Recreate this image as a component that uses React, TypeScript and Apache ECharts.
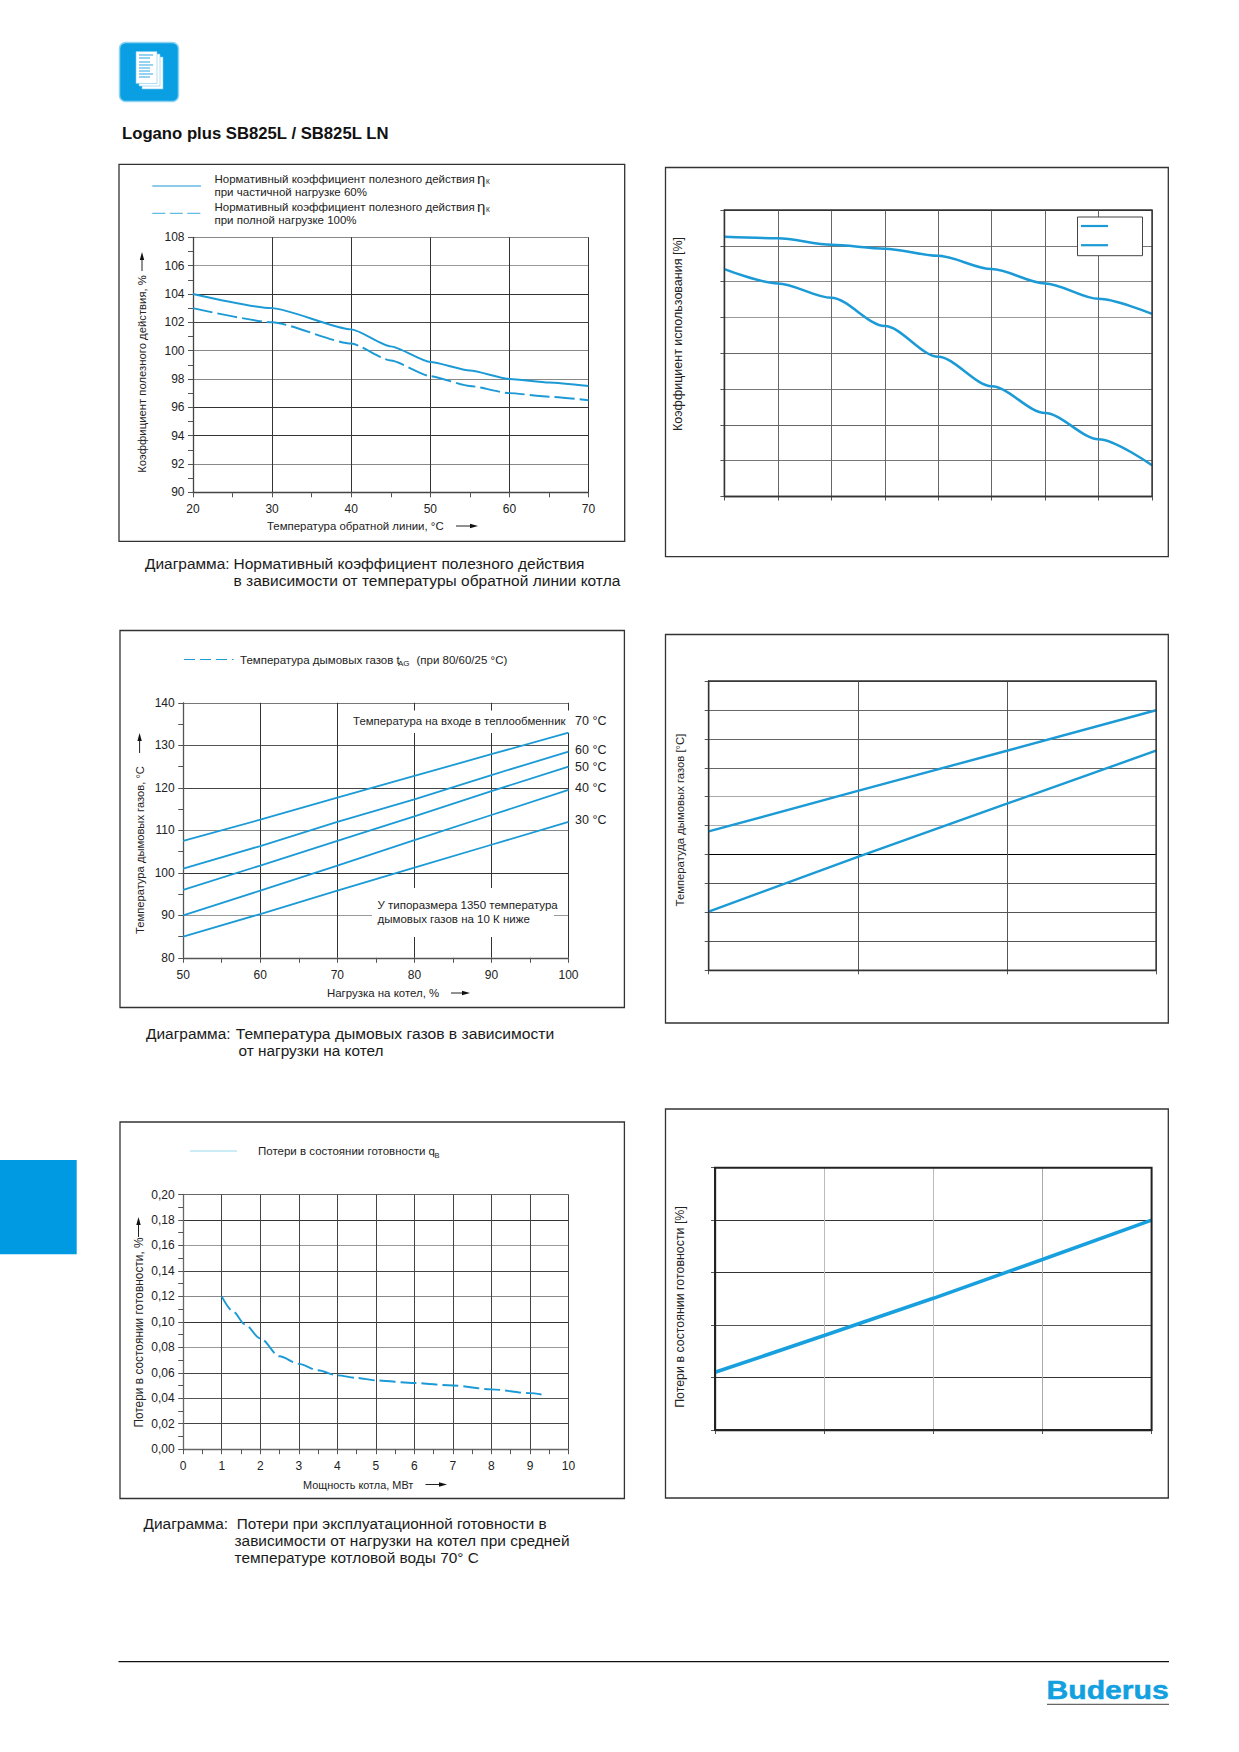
import React, { useEffect, useRef } from "react";
import * as echarts from "echarts";

const PAGE_W = 1239;
const PAGE_H = 1752;
const BLUE = "#1b9ad6";
const FONT = '"Liberation Sans", Arial, sans-serif';

// Chart 1: efficiency vs. return temperature
const effX = [20, 30, 40, 45, 50, 55, 60, 65, 70];
const effPartLoad = [104, 103, 101.5, 100.3, 99.2, 98.6, 98, 97.75, 97.5];
const effFullLoad = [103, 102, 100.5, 99.3, 98.2, 97.5, 97, 96.75, 96.5];

// Chart 2: utilisation coefficient, no scale printed
const utilX = [0, 1, 2, 3, 4, 5, 6, 7, 8];
const utilUpper = [7.25, 7.21, 7.03, 6.92, 6.72, 6.35, 5.95, 5.52, 5.1];
const utilLower = [6.35, 5.95, 5.55, 4.76, 3.9, 3.08, 2.33, 1.6, 0.87];

// Chart 3: flue gas temperature vs. load
const loadX = [50, 60, 70, 80, 90, 100];
const flue70 = [107.5, 112.5, 117.7, 122.8, 127.9, 133];
const flue60 = [101, 106.3, 112, 117.3, 123, 128.5];
const flue50 = [96, 101.7, 107.5, 113.3, 119.2, 125];
const flue40 = [90, 95.8, 101.7, 107.7, 113.6, 119.5];
const flue30 = [85, 90.3, 95.8, 101.2, 106.6, 112];
const inletLabels = ["70 °C", "60 °C", "50 °C", "40 °C", "30 °C"];

// Chart 4: flue gas temperature, no scale printed
const flue2X = [0, 1, 2, 3];
const flue2Upper = [4.8, 6.2, 7.59, 8.99];
const flue2Lower = [2.03, 3.92, 5.76, 7.59];

// Chart 5: standby losses vs. boiler output
const powerX = [1, 1.3, 1.6, 2, 2.5, 3, 3.5, 4, 4.5, 5, 6, 7, 8, 9, 9.3];
const standby = [0.12, 0.108, 0.098, 0.087, 0.073, 0.067, 0.062, 0.058, 0.056, 0.054, 0.052, 0.05, 0.047, 0.044, 0.043];

// Chart 6: standby losses, no scale printed
const standby2X = [0, 1, 2, 3, 4];
const standby2 = [1.1, 1.8, 2.51, 3.25, 4];

const pairs = (xs: number[], ys: number[]) => xs.map((x, i) => [x, ys[i]]);

const T = (x: number, y: number, text: string, o: any = {}) => ({
  type: "text",
  x,
  y,
  z: 5,
  rotation: o.rotation ?? 0,
  scaleX: o.scaleX ?? 1,
  style: {
    text,
    fontSize: o.size ?? 11.5,
    fontFamily: FONT,
    fontWeight: o.weight ?? "normal",
    fill: o.color ?? "#222",
    stroke: o.stroke,
    lineWidth: o.stroke ? 0.5 : 0,
    align: o.align ?? "left",
    verticalAlign: "middle",
  },
});
const L = (x1: number, y1: number, x2: number, y2: number, stroke: string, lineWidth = 1, lineDash?: number[]) => ({
  type: "line",
  z: 5,
  shape: { x1, y1, x2, y2 },
  style: { stroke, lineWidth, lineDash },
});
const R = (x: number, y: number, width: number, height: number, style: any, z = 1, r = 0) => ({
  type: "rect",
  z,
  shape: { x, y, width, height, r },
  style,
});
const frame = (x1: number, y1: number, x2: number, y2: number) =>
  R(x1, y1, x2 - x1, y2 - y1, { fill: "none", stroke: "#333", lineWidth: 1.3 }, 0);
const arrowR = (x1: number, x2: number, y: number) => [
  L(x1, y, x2 - 7, y, "#222", 1),
  { type: "polygon", z: 5, shape: { points: [[x2 - 8, y - 2.2], [x2, y], [x2 - 8, y + 2.2]] }, style: { fill: "#111" } },
];
const arrowU = (x: number, y1: number, y2: number) => [
  L(x, y2, x, y1 + 7, "#222", 1),
  { type: "polygon", z: 5, shape: { points: [[x - 2.2, y1 + 8], [x, y1], [x + 2.2, y1 + 8]] }, style: { fill: "#111" } },
];
const yTitle = (x: number, y: number, text: string, size = 11.5) =>
  T(x, y, text, { rotation: Math.PI / 2, align: "center", size });
const caption = (x: number, y: number, text: string, stretch: number) =>
  T(x, y, text, { size: 15, scaleX: stretch, color: "#1a1a1a" });

const axisBase = (min: number, max: number, interval: number, gridIndex: number, labels: boolean, color: string, splitColors: any, minor: boolean, fmt?: (v: number) => string) => ({
  type: "value",
  gridIndex,
  min,
  max,
  interval,
  axisLine: { show: true, onZero: false, lineStyle: { color, width: 1.3 } },
  axisTick: { show: true, length: labels ? 5 : 4, lineStyle: { color: "#555", width: 1 } },
  minorTick: minor ? { show: true, splitNumber: 2, length: 5, lineStyle: { color: "#555", width: 1 } } : { show: false },
  splitLine: { show: true, lineStyle: { color: splitColors, width: 1 } },
  axisLabel: labels
    ? { show: true, fontSize: 12, fontFamily: FONT, color: "#222", margin: 8.5, showMinLabel: true, showMaxLabel: true, formatter: fmt }
    : { show: false },
});

const line = (i: number, data: number[][], name: string, width: number, dash?: number[], color = BLUE, smooth: number | boolean = false) => ({
  type: "line",
  name,
  xAxisIndex: i,
  yAxisIndex: i,
  data,
  showSymbol: false,
  symbol: "none",
  smooth,
  smoothMonotone: smooth ? "x" : undefined,
  clip: false,
  z: 2,
  lineStyle: { color, width, type: dash ?? "solid" },
});

function buildOption() {
  const grids = [
    { left: 193, top: 237.3, width: 395.5, height: 255 },
    { left: 724.4, top: 210, width: 427.6, height: 286.5 },
    { left: 183.2, top: 702.8, width: 385.3, height: 255 },
    { left: 708.7, top: 681, width: 447.3, height: 289.3 },
    { left: 183.2, top: 1194.5, width: 385.3, height: 254.7 },
    { left: 715, top: 1167.7, width: 436.6, height: 262.3 },
  ];
  const fmtComma = (v: number) => v.toFixed(2).replace(".", ",");
  const xAxes = [
    axisBase(20, 70, 10, 0, true, "#444", "#333", true),
    axisBase(0, 8, 1, 1, false, "#333", "#666", false),
    axisBase(50, 100, 10, 2, true, "#555", "#333", true),
    axisBase(0, 3, 1, 3, false, "#222", "#555", false),
    axisBase(0, 10, 1, 4, true, "#666", "#444", true),
    axisBase(0, 4, 1, 5, false, "#111", ["#111", "#bbb", "#bbb", "#aaa", "#111"], false),
  ];
  const yAxes = [
    axisBase(90, 108, 2, 0, true, "#444", ["#444", "#888", "#333", "#333", "#888", "#888", "#444", "#333", "#999", "#888"], true),
    axisBase(0, 8, 1, 1, false, "#333", ["#333", "#777", "#666", "#777", "#666", "#999", "#888", "#777", "#333"], false),
    axisBase(80, 140, 10, 2, true, "#555", ["#888", "#999", "#333", "#888", "#444", "#555", "#777"], true),
    axisBase(0, 10, 1, 3, false, "#222", ["#333", "#555", "#555", "#555", "#000", "#aaa", "#aaa", "#666", "#666", "#666", "#444"], false),
    axisBase(0, 0.2, 0.02, 4, true, "#666", ["#666", "#444", "#555", "#444", "#999", "#333", "#888", "#444", "#999", "#333", "#666"], true, fmtComma),
    axisBase(0, 5, 1, 5, false, "#111", ["#111", "#333", "#555", "#333", "#333", "#111"], false),
  ];
  xAxes.forEach((a: any) => (a.axisLabel.margin = 11));

  const series = [
    line(0, pairs(effX, effPartLoad), "ηк 60%", 1.9, undefined, BLUE, 0.2),
    line(0, pairs(effX, effFullLoad), "ηк 100%", 1.9, [20, 5], BLUE, 0.2),
    line(1, pairs(utilX, utilUpper), "верхняя", 2.5, undefined, BLUE, 0.3),
    line(1, pairs(utilX, utilLower), "нижняя", 2.5, undefined, BLUE, 0.3),
    line(2, pairs(loadX, flue70), inletLabels[0], 1.8),
    line(2, pairs(loadX, flue60), inletLabels[1], 1.8),
    line(2, pairs(loadX, flue50), inletLabels[2], 1.8),
    line(2, pairs(loadX, flue40), inletLabels[3], 1.8),
    line(2, pairs(loadX, flue30), inletLabels[4], 1.8),
    line(3, pairs(flue2X, flue2Upper), "верхняя", 2.4),
    line(3, pairs(flue2X, flue2Lower), "нижняя", 2.4),
    line(4, pairs(powerX, standby), "qB", 1.9, [16, 5], BLUE, 0.3),
    line(5, pairs(standby2X, standby2), "потери", 3.6, undefined, "#18a0de"),
  ];

  const graphic: any[] = [
    // page furniture
    R(119.5, 42.5, 59, 59, { fill: "#0a9fe3", stroke: "#8fd3f2", lineWidth: 1.5 }, 0, 6),
    R(142, 57, 21, 32, { fill: "#fff", stroke: "#7ccaec", lineWidth: 0.6 }, 1),
    R(139, 54, 21, 32, { fill: "#fff", stroke: "#7ccaec", lineWidth: 0.6 }, 1),
    R(136, 51.5, 21, 32, { fill: "#fff", stroke: "#7ccaec", lineWidth: 0.6 }, 1),
    ...[55, 58, 62, 65, 68, 71, 74, 77].map((y, i) => ({ ...L(139, y, i % 3 === 0 ? 153 : 150, y, "#4db5e6", 1.2) })),
    T(122, 133, "Logano plus SB825L / SB825L LN", { size: 16.7, weight: "bold", color: "#111" }),
    R(0, 1160, 76.7, 94.3, { fill: "#009ae2" }, 0),
    L(118.5, 1661.7, 1169, 1661.7, "#111", 1.3),
    T(1046.5, 1690, "Buderus", { size: 25, weight: "bold", color: "#12a0df", stroke: "#12a0df", scaleX: 1.205 }),
    L(1047, 1704.4, 1169, 1704.4, "#666", 1.4),

    // chart 1
    frame(119, 164.3, 624.7, 541.3),
    L(152.3, 186, 201, 186, BLUE, 1.1),
    L(152.3, 213.3, 201, 213.3, "#62bde5", 1.3, [13, 4.5]),
    T(214.5, 178.7, "Нормативный коэффициент полезного действия", { size: 11.5 }),
    T(477, 178, "η", { size: 15 }),
    T(486, 181.5, "К", { size: 6.5 }),
    T(214.5, 192, "при частичной нагрузке 60%", { size: 11.5 }),
    T(214.5, 206.6, "Нормативный коэффициент полезного действия", { size: 11.5 }),
    T(477, 206, "η", { size: 15 }),
    T(486, 209.5, "К", { size: 6.5 }),
    T(214.5, 220, "при полной нагрузке 100%", { size: 11.5 }),
    yTitle(142, 374, "Коэффициент полезного действия, %", 11.3),
    ...arrowU(142, 252, 271),
    T(267, 526, "Температура обратной линии, °C", { size: 11.45 }),
    ...arrowR(456, 478, 526),
    caption(145, 564, "Диаграмма:", 1.03),
    caption(233.5, 564, "Нормативный коэффициент полезного действия", 1.035),
    caption(233.5, 581, "в зависимости от температуры обратной линии котла", 1.035),

    // chart 2
    frame(665.5, 167.5, 1168.3, 556.7),
    R(724.4, 210, 427.6, 286.5, { fill: "none", stroke: "#333", lineWidth: 1.4 }, 3),
    yTitle(678, 334, "Коэффициент использования [%]", 12.5),
    R(1077.5, 217, 65, 38.7, { fill: "#fff", stroke: "#444", lineWidth: 1 }, 3),
    L(1081, 226, 1108, 226, BLUE, 2.2),
    L(1081, 245.2, 1108, 245.2, BLUE, 2.2),

    // chart 3
    frame(120, 630.5, 624.4, 1007.5),
    L(184, 659.5, 233.5, 659.5, BLUE, 1, [11, 5]),
    T(240, 660, "Температура дымовых газов t", { size: 11.5 }),
    T(398, 663.5, "AG", { size: 8 }),
    T(416.5, 660, "(при 80/60/25 °C)", { size: 11.5 }),
    R(348, 710.5, 225, 22.5, { fill: "#fff" }, 1),
    T(565.5, 721, "Температура на входе в теплообменник", { size: 11.4, align: "right" }),
    ...[721.3, 749.7, 766.7, 788, 820.3].map((y, i) => T(575, y, inletLabels[i], { size: 12.5 })),
    R(372, 888, 182, 49, { fill: "#fff" }, 1),
    T(377.5, 905, "У типоразмера 1350 температура", { size: 11.5 }),
    T(377.5, 918.5, "дымовых газов на 10 К ниже", { size: 11.5 }),
    yTitle(139.6, 850, "Температура дымовых газов, °C", 11.2),
    ...arrowU(139.6, 733, 753),
    T(327, 993, "Нагрузка на котел, %", { size: 11.45 }),
    ...arrowR(451, 470, 993),
    caption(146, 1034, "Диаграмма:", 1.03),
    caption(235.7, 1034, "Температура дымовых газов в зависимости", 1.045),
    caption(238.5, 1051, "от нагрузки на котел", 1.025),

    // chart 4
    frame(665.5, 634.5, 1168.3, 1023),
    R(708.7, 681, 447.3, 289.3, { fill: "none", stroke: "#333", lineWidth: 1.3 }, 3),
    yTitle(680, 820, "Температуда дымовых газов [°C]", 11.3),

    // chart 5
    frame(120, 1122, 624.4, 1498.5),
    L(190, 1151, 237, 1151, "#7fd0e8", 0.8),
    T(258, 1150.5, "Потери в состоянии готовности q", { size: 11.5 }),
    T(434.5, 1155, "B", { size: 7.5 }),
    yTitle(138.5, 1332.5, "Потери в состоянии готовности, %", 11.9),
    ...arrowU(138.5, 1217, 1237),
    T(303, 1484.5, "Мощность котла, МВт", { size: 10.9 }),
    ...arrowR(425.5, 447, 1484.5),
    caption(143.5, 1524, "Диаграмма:", 1.03),
    caption(236.8, 1524, "Потери при эксплуатационной готовности в", 1.022),
    caption(234.5, 1541, "зависимости от нагрузки на котел при средней", 1.03),
    caption(234.5, 1558, "температуре котловой воды 70° С", 1.028),

    // chart 6
    frame(665.5, 1109, 1168.3, 1498),
    R(715, 1167.7, 436.6, 262.3, { fill: "none", stroke: "#222", lineWidth: 2 }, 3),
    yTitle(680, 1307, "Потери в состоянии готовности [%]", 12.4),
  ];

  return {
    animation: false,
    backgroundColor: "#fff",
    grid: grids,
    xAxis: xAxes,
    yAxis: yAxes,
    series,
    graphic: { elements: graphic },
  };
}

export default function App() {
  const ref = useRef<HTMLDivElement>(null);
  useEffect(() => {
    const chart = echarts.init(ref.current!, undefined, { renderer: "svg", width: PAGE_W, height: PAGE_H });
    chart.setOption(buildOption() as any);
    return () => chart.dispose();
  }, []);
  return <div ref={ref} style={{ position: "absolute", left: 0, top: 0, width: PAGE_W, height: PAGE_H }} />;
}
